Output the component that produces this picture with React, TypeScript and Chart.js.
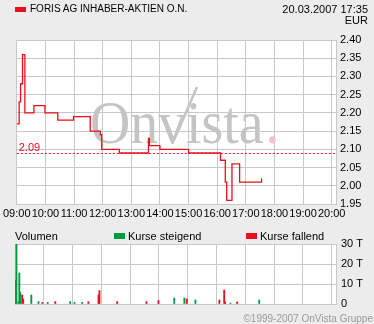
import React, { useEffect, useRef } from "react";
import { Chart, registerables } from "chart.js";

Chart.register(...registerables);

const FONT = "'Liberation Sans', Arial, sans-serif";

// ---- data ----
const titleText = "FORIS AG INHABER-AKTIEN O.N.";
const dateText = "20.03.2007 17:35";
const currencyText = "EUR";

const priceTimes = [
  "09:00", "09:05", "09:08", "09:12", "09:17", "09:36", "09:59", "10:26", "10:59",
  "11:34", "11:55", "11:58", "12:35", "13:36", "13:38", "14:00", "15:00", "16:07",
  "16:17", "16:20", "16:31", "16:47", "17:33",
];
const priceValues = [
  2.17, 2.23, 2.28, 2.36, 2.2, 2.22, 2.2, 2.18, 2.19,
  2.15, 2.14, 2.1, 2.09, 2.13, 2.11, 2.1, 2.09, 2.07,
  2.01, 1.96, 2.06, 2.01, 2.02,
];
const previousClose = 2.09;

const upTimes = [
  "09:00", "09:03", "09:07", "09:09", "09:11", "09:34", "09:49", "10:08", "10:55",
  "11:04", "11:20", "14:32", "14:53", "15:16", "16:29", "17:29",
];
const upVolumes = [12, 32, 1, 15.5, 5.7, 4.5, 1.2, 0.8, 1.2, 0.8, 0.8, 3, 3, 2, 0.5, 2];

const downTimes = [
  "09:15", "09:17", "09:57", "10:24", "11:33", "11:54", "11:56", "12:33", "13:34",
  "13:59", "14:58", "16:06", "16:16", "16:18", "16:43",
];
const downVolumes = [4.5, 2.5, 0.7, 1.2, 1.2, 4.5, 6.7, 1.2, 1.2, 1.7, 2.5, 2, 7, 1, 1];

const volumeTickLabels = ["0", "10 T", "20 T", "30 T"];

// ---- helpers ----
const toHours = (t: string) => {
  const [h, m] = t.split(":").map(Number);
  return h + m / 60;
};
const fmtHour = (v: number) => `${String(Math.round(v)).padStart(2, "0")}:00`;

const X_MIN = 9;
const X_MAX = 20.15;
const GRID = "#c8c8c8";
const RED = "#e8101a";
const GREEN = "#009a3e";

const whiteArea = {
  id: "whiteArea",
  beforeDraw(chart: any) {
    const { ctx, chartArea: a } = chart;
    ctx.save();
    ctx.fillStyle = "#ffffff";
    ctx.fillRect(a.left, a.top, a.right - a.left, a.bottom - a.top);
    ctx.restore();
  },
};

const priceDecor = {
  id: "priceDecor",
  beforeDatasetsDraw(chart: any) {
    const { ctx, chartArea: a, scales } = chart;
    // watermark
    ctx.save();
    ctx.beginPath();
    ctx.rect(a.left, a.top, a.right - a.left, a.bottom - a.top);
    ctx.clip();
    ctx.save();
    ctx.translate(90, 143);
    ctx.scale(0.9, 1);
    ctx.font = "62px 'Liberation Serif', 'DejaVu Serif', serif";
    ctx.fillStyle = "#c4c4c4";
    ctx.textBaseline = "alphabetic";
    ctx.fillText("Onvista", 0, 0);
    const wOn = ctx.measureText("On").width;
    const wV = ctx.measureText("v").width;
    const wAll = ctx.measureText("Onvista").width;
    ctx.fillStyle = "#f0c4c6";
    ctx.fillText(".", wAll + 2, 0);
    ctx.restore();
    const vBottom = 90 + 0.9 * (wOn + wV * 0.5);
    ctx.strokeStyle = "#c4c4c4";
    ctx.lineWidth = 2.5;
    ctx.beginPath();
    ctx.moveTo(vBottom + 2, 140);
    ctx.lineTo(197, 87);
    ctx.stroke();
    ctx.restore();

    // previous close line
    const y = Math.round(scales.y.getPixelForValue(previousClose)) + 0.5;
    ctx.save();
    ctx.strokeStyle = RED;
    ctx.lineWidth = 1;
    ctx.setLineDash([2, 2]);
    ctx.beginPath();
    ctx.moveTo(a.left, y);
    ctx.lineTo(a.right, y);
    ctx.stroke();
    ctx.setLineDash([]);
    ctx.fillStyle = RED;
    ctx.font = `11px ${FONT}`;
    ctx.textBaseline = "middle";
    ctx.fillText(previousClose.toFixed(2), a.left + 2, y - 6);
    ctx.restore();
  },
};

function PriceChart() {
  const ref = useRef<HTMLCanvasElement>(null);
  useEffect(() => {
    const chart = new Chart(ref.current!, {
      type: "line",
      data: {
        datasets: [
          {
            data: priceTimes.map((t, i) => ({ x: toHours(t), y: priceValues[i] })),
            borderColor: RED,
            borderWidth: 1.3,
            stepped: "before",
            pointRadius: 0,
            fill: false,
          },
        ],
      },
      options: {
        animation: false,
        responsive: false,
        events: [],
        layout: { padding: { left: 15, top: 40, right: 0, bottom: 0 } },
        plugins: { legend: { display: false }, tooltip: { enabled: false } },
        scales: {
          x: {
            type: "linear",
            min: X_MIN,
            max: X_MAX,
            grid: { color: GRID, drawTicks: false },
            border: { display: true, color: GRID },
            ticks: {
              stepSize: 1,
              includeBounds: false,
              autoSkip: false,
              maxRotation: 0,
              padding: 3,
              color: "#000",
              font: { family: FONT, size: 11 },
              callback: (v: any) => fmtHour(Number(v)),
            },
            afterFit: (s: any) => {
              s.height = 20;
            },
          },
          y: {
            position: "right",
            min: 1.95,
            max: 2.4,
            grid: { color: GRID, drawTicks: false },
            border: { display: true, color: GRID },
            ticks: {
              stepSize: 0.05,
              padding: 4,
              color: "#000",
              font: { family: FONT, size: 11 },
              callback: (v: any) => Number(v).toFixed(2),
            },
            afterFit: (s: any) => {
              s.width = 38;
            },
          },
        },
      },
      plugins: [whiteArea, priceDecor],
    } as any);
    return () => chart.destroy();
  }, []);
  return (
    <canvas
      ref={ref}
      width={374}
      height={224}
      style={{ position: "absolute", left: 0, top: 0, width: 374, height: 224 }}
    />
  );
}

function VolumeChart() {
  const ref = useRef<HTMLCanvasElement>(null);
  useEffect(() => {
    const chart = new Chart(ref.current!, {
      type: "bar",
      data: {
        datasets: [
          {
            label: "Kurse steigend",
            data: upTimes.map((t, i) => ({ x: toHours(t), y: upVolumes[i] })),
            backgroundColor: GREEN,
            barThickness: 1.2,
            grouped: false,
          },
          {
            label: "Kurse fallend",
            data: downTimes.map((t, i) => ({ x: toHours(t), y: downVolumes[i] })),
            backgroundColor: RED,
            barThickness: 1.2,
            grouped: false,
          },
        ],
      },
      options: {
        animation: false,
        responsive: false,
        events: [],
        layout: { padding: { left: 15, top: 20, right: 0, bottom: 0 } },
        plugins: { legend: { display: false }, tooltip: { enabled: false } },
        scales: {
          x: {
            type: "linear",
            min: X_MIN,
            max: X_MAX,
            offset: false,
            grid: { color: GRID, drawTicks: false, offset: false },
            border: { display: true, color: GRID },
            ticks: { stepSize: 1, includeBounds: false, display: false },
            afterFit: (s: any) => {
              s.height = 20;
            },
          },
          y: {
            position: "right",
            min: 0,
            max: 30,
            grid: { color: GRID, drawTicks: false },
            border: { display: true, color: GRID },
            ticks: {
              stepSize: 10,
              padding: 5,
              color: "#000",
              font: { family: FONT, size: 11 },
              callback: (v: any) => volumeTickLabels[Math.round(Number(v) / 10)],
            },
            afterFit: (s: any) => {
              s.width = 38;
            },
          },
        },
      },
      plugins: [whiteArea],
    } as any);
    return () => chart.destroy();
  }, []);
  return (
    <canvas
      ref={ref}
      width={374}
      height={100}
      style={{ position: "absolute", left: 0, top: 224, width: 374, height: 100 }}
    />
  );
}

const txt = (extra: React.CSSProperties): React.CSSProperties => ({
  position: "absolute",
  fontFamily: FONT,
  fontSize: 11,
  lineHeight: "12px",
  whiteSpace: "nowrap",
  color: "#000",
  ...extra,
});

export default function App() {
  return (
    <div
      style={{
        position: "absolute",
        left: 0,
        top: 0,
        width: 374,
        height: 324,
        background: "#ececec",
        overflow: "hidden",
      }}
    >
      <PriceChart />
      <VolumeChart />
      <div style={{ position: "absolute", left: 15, top: 7, width: 11, height: 5, background: RED }} />
      <div style={txt({ left: 30, top: 3, fontSize: 10 })}>{titleText}</div>
      <div style={txt({ right: 6, top: 3, textAlign: "right" })}>{dateText}</div>
      <div style={txt({ right: 6, top: 14, textAlign: "right" })}>{currencyText}</div>

      <div style={txt({ left: 15, top: 230 })}>Volumen</div>
      <div style={{ position: "absolute", left: 114, top: 233, width: 11, height: 6, background: GREEN }} />
      <div style={txt({ left: 128, top: 230 })}>Kurse steigend</div>
      <div style={{ position: "absolute", left: 246, top: 233, width: 11, height: 6, background: RED }} />
      <div style={txt({ left: 260, top: 230 })}>Kurse fallend</div>

      <div style={txt({ right: 1, top: 313, fontSize: 10, color: "#9a9a9a", textAlign: "right" })}>
        ©1999-2007 OnVista Gruppe
      </div>
    </div>
  );
}
